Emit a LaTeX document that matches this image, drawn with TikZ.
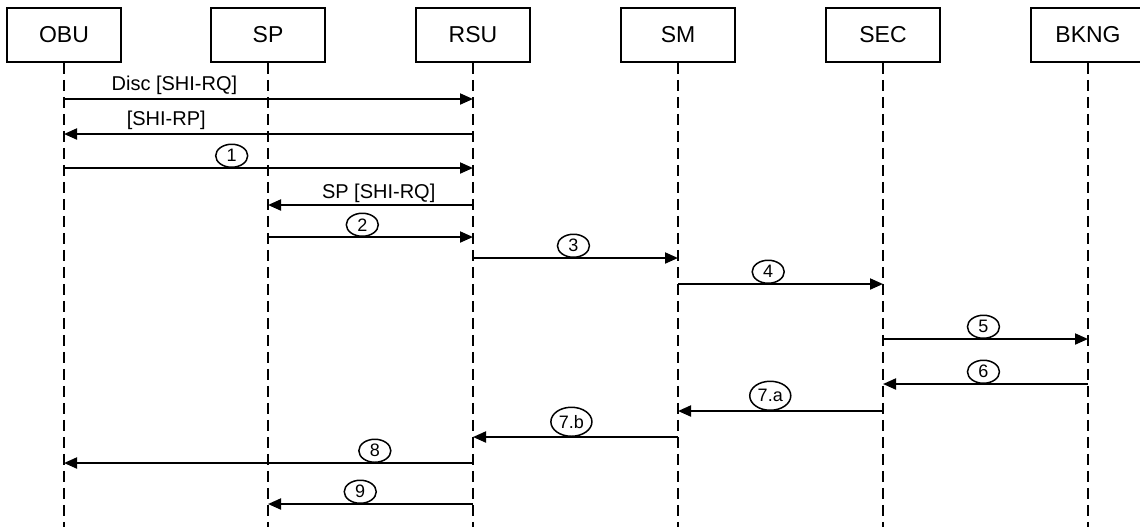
\documentclass[tikz,border=0pt]{standalone}
\usepackage{fontspec}
\setmainfont{Liberation Sans}
\usetikzlibrary{arrows.meta,shapes.geometric}

\tikzset{
  actor/.style={draw,line width=0.8pt,minimum width=57pt,minimum height=27pt,inner sep=0pt,font=\fontsize{11.5}{13}\selectfont},
  lifeline/.style={line width=0.8pt,dash pattern=on 5.5pt off 3pt},
  msg/.style={->,line width=1pt},
  txt/.style={above,inner sep=1.5pt,font=\fontsize{10}{12}\selectfont},
  num/.style={draw,ellipse,anchor=south,line width=0.75pt,inner sep=0.8pt,minimum width=16pt,minimum height=11.5pt,font=\fontsize{9}{10}\selectfont}
}

\begin{document}
\begin{tikzpicture}[x=0.5pt,y=-0.5pt,>={Triangle[length=6.5pt,width=5.5pt]},line cap=butt]
\useasboundingbox (0,0) rectangle (1140,527);
\foreach \n/\t/\x in {obu/OBU/64,sp/SP/268,rsu/RSU/473,sm/SM/678,sec/SEC/883,bkng/BKNG/1088}{
  \node[actor] (\n) at (\x,35) {\t};
  \coordinate (\n end) at (\x,527);
  \draw[lifeline] (\n.south) -- (\n end);
}
% messages
\draw[msg] (obu |- 0,99) -- (rsu |- 0,99) node[txt,pos=0.27] (t1) {Disc [SHI-RQ]};
\draw[msg] (rsu |- 0,134) -- (obu |- 0,134) node[txt,pos=0.75] (t2) {[SHI-RP]};
\draw[msg] (obu |- 0,168) -- (rsu |- 0,168) node[num,pos=0.41] (n1) {1};
\draw[msg] (rsu |- 0,205) -- (sp |- 0,205) node[txt,inner sep=0.5pt,pos=0.46] (t3) {SP [SHI-RQ]};
\draw[msg] (sp |- 0,237) -- (rsu |- 0,237) node[num,pos=0.46] (n2) {2};
\draw[msg] (rsu |- 0,258) -- (sm |- 0,258) node[num,pos=0.49] (n3) {3};
\draw[msg] (sm |- 0,284) -- (sec |- 0,284) node[num,pos=0.44] (n4) {4};
\draw[msg] (sec |- 0,339) -- (bkng |- 0,339) node[num,pos=0.49] (n5) {5};
\draw[msg] (bkng |- 0,384) -- (sec |- 0,384) node[num,pos=0.51] (n6) {6};
\draw[msg] (sec |- 0,411) -- (sm |- 0,411) node[num,inner sep=1pt,minimum height=14.5pt,pos=0.55] (n7a) {7.a};
\draw[msg] (sm |- 0,437) -- (rsu |- 0,437) node[num,inner sep=1pt,minimum height=14.5pt,pos=0.52] (n7b) {7.b};
\draw[msg] (rsu |- 0,463) -- (obu |- 0,463) node[num,pos=0.24] (n8) {8};
\draw[msg] (rsu |- 0,504) -- (sp |- 0,504) node[num,pos=0.55] (n9) {9};
\end{tikzpicture}
\end{document}
